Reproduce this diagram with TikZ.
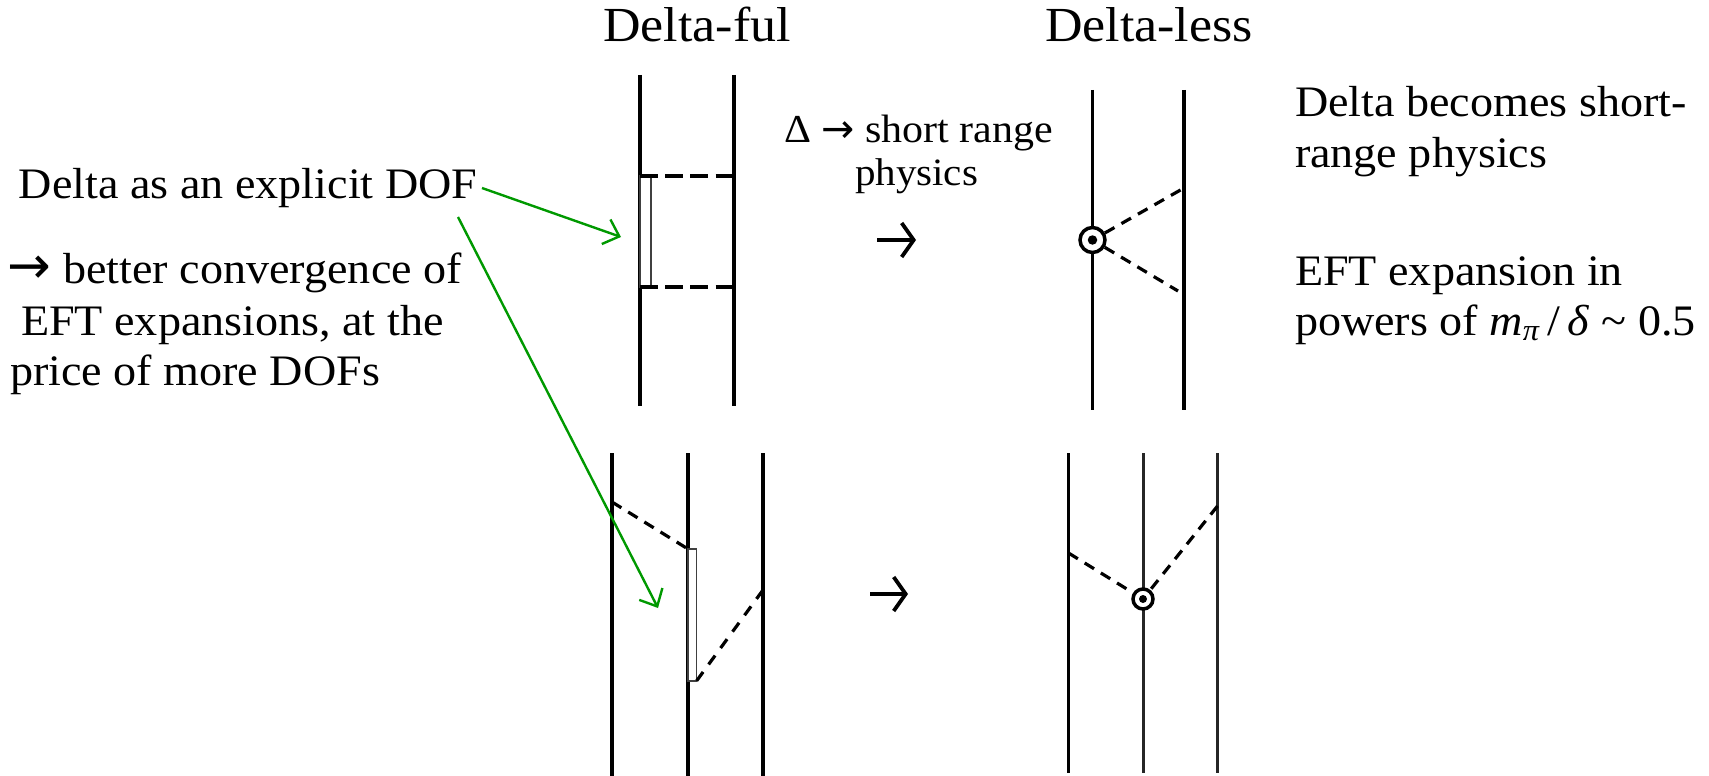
\documentclass[tikz,border=0pt]{standalone}
\usepackage{fontspec}
\setmainfont[FakeStretch=1.06]{Liberation Serif}
\newfontfamily\arrowfont{DejaVu Sans}
\newfontfamily\bigarrowfont[Scale=1.2]{DejaVu Sans}
\newcommand{\textarrow}{{\arrowfont →}}
\newcommand{\textbigarrow}{{\bigarrowfont →}}
\usetikzlibrary{arrows.meta}
\definecolor{arrowgreen}{RGB}{0,153,0}
\tikzset{
  x=1pt,y=-1pt,
  fermion/.style={line width=3.2pt},
  pion/.style={line width=3.2pt,dash pattern=on 11pt off 8pt},
  pionlong/.style={line width=3.2pt,dash pattern=on 11pt off 9.3pt},
  pionh/.style={line width=4pt,dash pattern=on 17.6pt off 7.6pt},
  deltabox/.style={draw=black!75,fill=white,line width=1.6pt},
  contact/.style={circle,draw,fill=white,line width=3.5pt,inner sep=0pt},
  cdot/.style={circle,fill=black,inner sep=0pt,minimum size=9.5pt},
  bigarrow/.style={line width=3.8pt,-{Straight Barb[length=12pt,width=34pt,line width=3.8pt]}},
  greenarrow/.style={arrowgreen,line width=2.4pt,-{Straight Barb[length=14pt,width=26pt,line width=2.4pt]}},
  body/.style={anchor=base west,inner sep=0pt,outer sep=0pt,font=\fontsize{43.5}{51}\selectfont},
  small/.style={anchor=base west,inner sep=0pt,outer sep=0pt,font=\fontsize{38.7}{45}\selectfont},
  smallwide/.style={small,font=\fontsize{39.6}{45}\selectfont},
  heading/.style={anchor=base,inner sep=0pt,outer sep=0pt,font=\fontsize{49}{51}\selectfont},
}
\begin{document}
\begin{tikzpicture}
\useasboundingbox (0,0) rectangle (1709,776);
\fill[white] (0,0) rectangle (1709,776);

% Headings
\node[heading] (hful) at (697,42) {Delta-ful};
\node[heading] (hless) at (1149,42) {Delta-less};

% Top left diagram
\coordinate (a1t) at (640,75); \coordinate (a1b) at (640,406);
\coordinate (a2t) at (734,75); \coordinate (a2b) at (734,406);
\draw[fermion] (a1t) -- (a1b);
\draw[fermion] (a2t) -- (a2b);
\coordinate (bx1) at (640,176); \coordinate (bx2) at (651,287);
\draw[deltabox] (bx1) rectangle (bx2);
\coordinate (d1e) at (734,176); \coordinate (d2s) at (640,287); \coordinate (d2e) at (734,287);
\draw[pionh] (bx1) -- (d1e);
\draw[pionh] (d2s) -- (d2e);

% Top right diagram
\coordinate (b1t) at (1092.5,90); \coordinate (b1b) at (1092.5,410);
\coordinate (b2t) at (1184,90); \coordinate (b2b) at (1184,410);
\draw[fermion] (b1t) -- (b1b);
\draw[fermion] (b2t) -- (b2b);
\node[contact,minimum size=25pt] (c1) at (1092.5,240) {};
\node[cdot] (c1d) at (c1) {};
\coordinate (p1) at (1184,188); \coordinate (p2) at (1178,291);
\draw[pion] (c1) -- (p1);
\draw[pion] (c1) -- (p2);

% Bottom left diagram
\coordinate (e1t) at (612,453); \coordinate (e1b) at (612,776);
\coordinate (e2t) at (688,453); \coordinate (e2b) at (688,776);
\coordinate (e3t) at (763,453); \coordinate (e3b) at (763,776);
\draw[fermion] (e1t) -- (e1b);
\draw[fermion] (e2t) -- (e2b);
\draw[fermion] (e3t) -- (e3b);
\coordinate (bb1) at (688,549); \coordinate (bb2) at (696.5,681);
\draw[deltabox] (bb1) rectangle (bb2);
\coordinate (q1) at (612,502); \coordinate (q2) at (763,590);
\draw[pion] (q1) -- (bb1);
\draw[pionlong] (q2) -- (bb2);

% Bottom right diagram
\coordinate (f1t) at (1068.5,453); \coordinate (f1b) at (1068.5,773);
\coordinate (f2t) at (1143,453); \coordinate (f2b) at (1143,773);
\coordinate (f3t) at (1217.5,453); \coordinate (f3b) at (1217.5,773);
\draw[fermion] (f1t) -- (f1b);
\draw[line width=3pt,black!85] (f2t) -- (f2b);
\draw[line width=3pt,black!85] (f3t) -- (f3b);
\node[contact,minimum size=20pt] (c2) at (1143,599) {};
\node[cdot,minimum size=8pt] (c2d) at (c2) {};
\coordinate (r1) at (1068.5,553); \coordinate (r2) at (1217.5,506);
\draw[pion] (r1) -- (c2);
\draw[pion] (r2) -- (c2);

% Transition arrows
\coordinate (t1s) at (877,240); \coordinate (t1e) at (916,240);
\draw[bigarrow] (t1s) -- (t1e);
\coordinate (t2s) at (870,594); \coordinate (t2e) at (908,594);
\draw[bigarrow] (t2s) -- (t2e);

% Labels
\node[smallwide] (sr1) at (784,142) {Δ \textarrow{} short range};
\node[small] (sr2) at (855,185) {physics};

\node[body] (l1) at (19,198) {Delta as an explicit DOF};
\node[body] (l2) at (8,283) {\textbigarrow{} better convergence of};
\node[body] (l3) at (21,335) {EFT expansions, at the};
\node[body] (l4) at (10,385) {price of more DOFs};

\node[body] (r1a) at (1295,116) {Delta becomes short-};
\node[body] (r1b) at (1295,167) {range physics};
\node[body] (r2a) at (1295,285) {EFT expansion in};
\node[body] (r2b) at (1295,335) {powers of \textit{m}\textsubscript{\textit{π}}\hspace{.17em}/\hspace{.17em}\textit{δ} \textasciitilde{} 0.5};

% Green pointers
\coordinate (g1s) at (482,188); \coordinate (g1e) at (621,237);
\coordinate (g2s) at (458,217); \coordinate (g2e) at (658,608);
\draw[greenarrow] (g1s) -- (g1e);
\draw[greenarrow] (g2s) -- (g2e);
\end{tikzpicture}
\end{document}
